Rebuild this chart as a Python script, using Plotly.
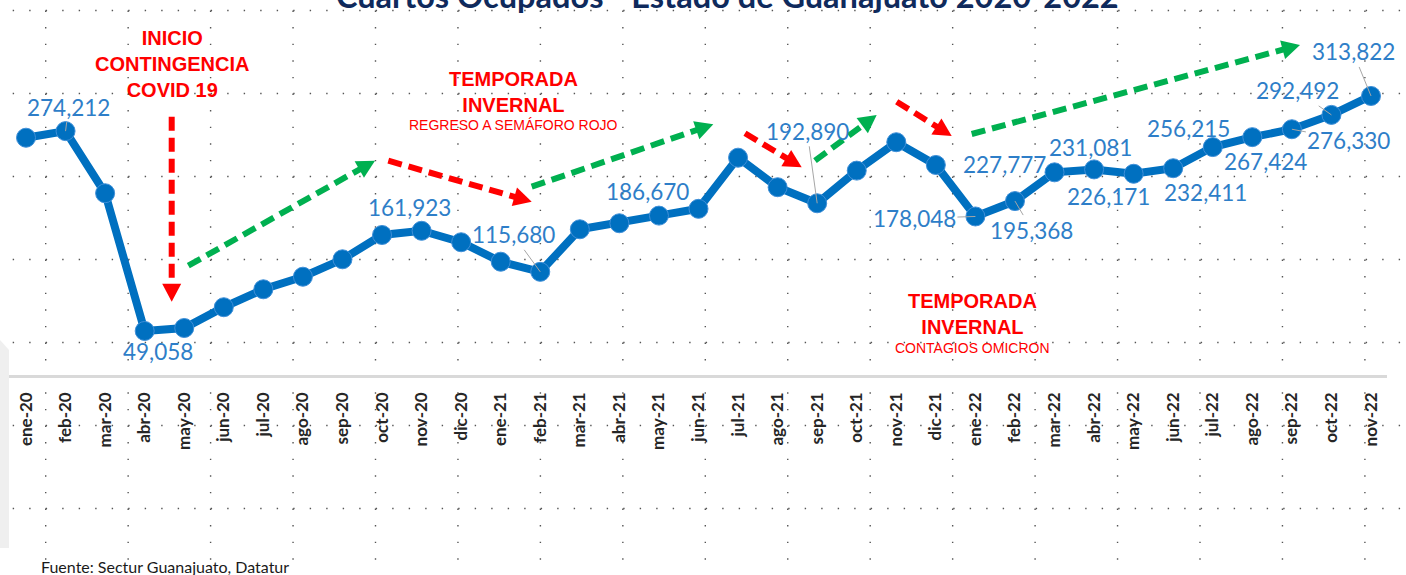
import plotly.graph_objects as go

# ---------------- data ----------------
months = ["ene-20", "feb-20", "mar-20", "abr-20", "may-20", "jun-20", "jul-20", "ago-20",
          "sep-20", "oct-20", "nov-20", "dic-20", "ene-21", "feb-21", "mar-21", "abr-21",
          "may-21", "jun-21", "jul-21", "ago-21", "sep-21", "oct-21", "nov-21", "dic-21",
          "ene-22", "feb-22", "mar-22", "abr-22", "may-22", "jun-22", "jul-22", "ago-22",
          "sep-22", "oct-22", "nov-22"]
cuartos = [266800, 274212, 204200, 49058, 52400, 75800, 96000, 110200,
           129800, 157200, 161923, 149000, 127100, 115680, 163600, 170400,
           179000, 186670, 244300, 211000, 192890, 229700, 261700, 236100,
           178048, 195368, 227777, 231081, 226171, 232411, 256215, 267424,
           276330, 292492, 313822]
labeled_months = ["feb-20", "abr-20", "nov-20", "feb-21", "jun-21", "sep-21", "ene-22",
                  "feb-22", "mar-22", "abr-22", "may-22", "jun-22", "jul-22", "ago-22",
                  "sep-22", "oct-22", "nov-22"]

title_text = "Cuartos Ocupados - Estado de Guanajuato 2020-2022"
source_text = "Fuente: Sectur Guanajuato, Datatur"

# ---------------- styling / layout ----------------
W, H = 1406, 575
LINE_BLUE = "#0070C0"
LABEL_BLUE = "#2E7EC8"
RED = "#FF0000"
GREEN = "#00B050"

# label offsets (pixels) and whether a leader line is drawn
label_style = {
    "feb-20": (3, -24, True), "abr-20": (13, 21, False), "nov-20": (-12, -23, False),
    "feb-21": (-27, -37, True), "jun-21": (-51, -17, False), "sep-21": (-10, -72, True),
    "ene-22": (-61, 2, True), "feb-22": (17, 29, True), "mar-22": (-50, -8, False),
    "abr-22": (-4, -22, False), "may-22": (-25, 23, False), "jun-22": (32, 24, False),
    "jul-22": (-24, -19, False), "ago-22": (13, 24, False), "sep-22": (57, 11, True),
    "oct-22": (-34, -24, True), "nov-22": (-18, -44, True),
}


def px(x):
    return x / W


def py(y):
    return 1 - y / H


fig = go.Figure()

fig.add_trace(go.Scatter(
    x=months, y=cuartos, mode="lines+markers",
    line=dict(color=LINE_BLUE, width=8),
    marker=dict(size=19, color=LINE_BLUE, line=dict(color="#3F8FD8", width=1)),
    cliponaxis=False, hoverinfo="x+y", showlegend=False,
))

shapes = []
# faint watermark at the left edge
shapes.append(dict(type="path", xref="paper", yref="paper", layer="below",
                   path="M {} {} L {} {} L {} {} L {} {} Z".format(
                       px(0), py(340), px(9), py(350), px(9), py(548), px(0), py(548)),
                   fillcolor="#EFEFEF", line=dict(width=0)))
# dotted background grid
for k in range(17):
    x = 45.7 + 82.45 * k
    shapes.append(dict(type="line", xref="paper", yref="paper", layer="below",
                       x0=px(x), x1=px(x), y0=py(-6.1), y1=py(H + 5),
                       line=dict(color="#555555", width=1.4, dash="1.4px,15.2px")))
for k in range(7):
    y = 10.5 + 83.0 * k
    shapes.append(dict(type="line", xref="paper", yref="paper", layer="below",
                       x0=px(-3.8), x1=px(W + 5), y0=py(y), y1=py(y),
                       line=dict(color="#555555", width=1.4, dash="1.4px,15.1px")))

# dashed arrows (pixel positions of decorations)
arrows = [
    ((171.7, 116.7), (171.7, 301.7), RED),
    ((188.3, 265.7), (375.0, 160.7), GREEN),
    ((388.3, 160.7), (531.7, 201.7), RED),
    ((531.7, 186.7), (713.3, 124.3), GREEN),
    ((745.0, 133.3), (801.7, 167.3), RED),
    ((815.0, 160.7), (876.7, 115.0), GREEN),
    ((896.7, 101.7), (951.7, 136.0), RED),
    ((971.7, 134.0), (1300.0, 45.0), GREEN),
]
HEAD_L, HEAD_W = 18, 19
for (x0, y0), (x1, y1), col in arrows:
    dx, dy = x1 - x0, y1 - y0
    L = (dx ** 2 + dy ** 2) ** 0.5
    ux, uy = dx / L, dy / L
    bx, by = x1 - ux * HEAD_L, y1 - uy * HEAD_L
    shapes.append(dict(type="line", xref="paper", yref="paper",
                       x0=px(x0), y0=py(y0), x1=px(bx + ux * 2), y1=py(by + uy * 2),
                       line=dict(color=col, width=6, dash="14px,7px")))
    nx, ny = -uy, ux
    p1 = (bx + nx * HEAD_W / 2, by + ny * HEAD_W / 2)
    p2 = (bx - nx * HEAD_W / 2, by - ny * HEAD_W / 2)
    path = "M {} {} L {} {} L {} {} Z".format(px(x1), py(y1), px(p1[0]), py(p1[1]),
                                              px(p2[0]), py(p2[1]))
    shapes.append(dict(type="path", xref="paper", yref="paper", path=path,
                       fillcolor=col, line=dict(color=col, width=0)))

annotations = []
# data labels
for m in labeled_months:
    i = months.index(m)
    dx, dy, leader = label_style[m]
    annotations.append(dict(
        x=m, y=cuartos[i], xref="x", yref="y", text=f"{cuartos[i]:,}",
        showarrow=leader, arrowhead=0, arrowwidth=1, arrowcolor="#A6A6A6",
        ax=dx, ay=dy, xshift=0 if leader else dx, yshift=0 if leader else -dy,
        font=dict(family="Lato, sans-serif", size=22.5, color=LABEL_BLUE),
    ))

BIG = dict(family="Liberation Sans, Arial, sans-serif", size=20, color=RED)
SMALL = dict(family="Liberation Sans, Arial, sans-serif", size=14, color=RED)
texts = [
    ("<b>INICIO<br>CONTINGENCIA<br>COVID 19</b>", 172, 64, BIG),
    ("<b>TEMPORADA<br>INVERNAL</b>", 513, 92.5, BIG),
    ("REGRESO A SEMÁFORO ROJO", 513.5, 125, SMALL),
    ("<b>TEMPORADA<br>INVERNAL</b>", 972, 314, BIG),
    ("CONTAGIOS OMICRON", 972, 347.7, SMALL),
]
for t, x, y, f in texts:
    annotations.append(dict(x=px(x), y=py(y), xref="paper", yref="paper", text=t,
                            showarrow=False, xanchor="center", yanchor="middle",
                            font=f, align="center"))

annotations.append(dict(x=px(727), y=py(-5), xref="paper", yref="paper",
                        text=f"<b>{title_text}</b>", showarrow=False,
                        xanchor="center", yanchor="middle",
                        font=dict(family="Lato, sans-serif", size=32.5, color="#0F2A5C")))
annotations.append(dict(x=px(39), y=py(566), xref="paper", yref="paper",
                        text=source_text, showarrow=False,
                        xanchor="left", yanchor="middle",
                        font=dict(family="Lato, sans-serif", size=16, color="#1A1A1A")))

CAT_PX = (1371 - 26) / 34
x_left, x_right = 9, 1387
y_axis_px = 374.5

fig.update_layout(
    width=W, height=H, autosize=False,
    margin=dict(l=0, r=0, t=0, b=0),
    paper_bgcolor="white", plot_bgcolor="rgba(0,0,0,0)",
    shapes=shapes, annotations=annotations,
    xaxis=dict(
        domain=[px(x_left), px(x_right)],
        range=[-(26 - x_left) / CAT_PX, 34 + (x_right - 1371) / CAT_PX],
        type="category", showgrid=False, zeroline=False,
        showline=True, linecolor="#D9D9D9", linewidth=3,
        tickangle=-90, ticks="", ticklabelstandoff=8,
        tickfont=dict(family="Lato, sans-serif", size=17, color="#262626", weight="bold"),
    ),
    yaxis=dict(
        domain=[1 - y_axis_px / H, 1],
        range=[0, y_axis_px * (313822 - 49058) / (331 - 96)],
        visible=False, showgrid=False, zeroline=False,
    ),
)

fig.write_html("out.html", config={"displayModeBar": False},
               post_script="document.body.style.margin='0';document.body.style.overflow='hidden';")
